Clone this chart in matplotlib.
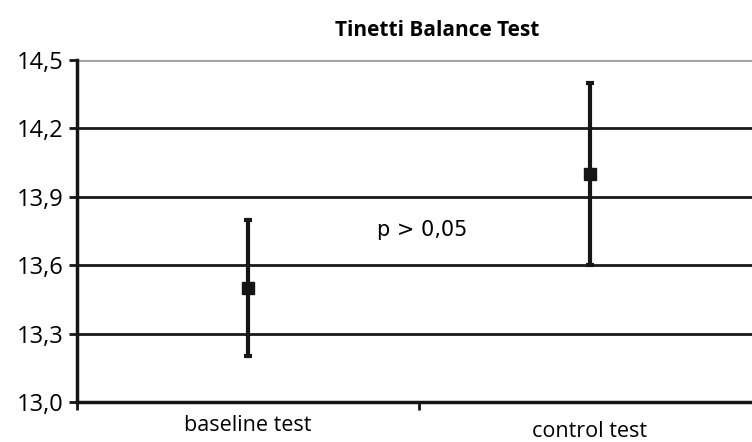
import matplotlib.pyplot as plt

plt.rcParams['font.family'] = ['Open Sans', 'DejaVu Sans']

# data
groups = ['baseline test', 'control test']
means = [13.5, 14.0]
lower = [13.2, 13.6]
upper = [13.8, 14.4]
yticks = [13.0, 13.3, 13.6, 13.9, 14.2, 14.5]
ptext = 'p > 0,05'

fig = plt.figure(figsize=(7.52, 4.42), dpi=100)
ax = fig.add_axes([77 / 752, 40 / 442, 1 - 77 / 752, 342 / 442])

x = [1, 2]
err = [[m - l for m, l in zip(means, lower)], [u - m for m, u in zip(means, upper)]]

# gridlines
for y in yticks[1:-1]:
    ax.axhline(y, color='#1a1a1a', lw=2, zorder=1)
ax.axhline(yticks[-1], color='#a0a0a0', lw=2, zorder=1)

ax.errorbar(x, means, yerr=err, fmt='s', color='#151515', ms=8, lw=3,
            capsize=3, capthick=3, zorder=3)

ax.text(1.51, 13.755, ptext, ha='center', va='center', fontsize=15,
        family='DejaVu Sans')

ax.set_yticks(yticks)
ax.set_yticklabels([f'{v:.1f}'.replace('.', ',') for v in yticks], fontsize=17)
ax.set_xticks([0.5, 1.5, 2.5])
ax.set_xticklabels([])
ax.set_ylim(13.0, 14.5)
ax.set_xlim(0.5, 2.474)
ax.tick_params(axis='both', direction='out', length=6, width=2, color='#151515')

# category labels (control label sits a bit lower in the original)
ax.text(1, 12.895, groups[0], ha='center', va='center', fontsize=15.5)
ax.text(2, 12.87, groups[1], ha='center', va='center', fontsize=15.5)

for s in ['top', 'right']:
    ax.spines[s].set_visible(False)
ax.spines['left'].set_linewidth(2.5)
ax.spines['bottom'].set_linewidth(2.5)
ax.spines['left'].set_color('#151515')
ax.spines['bottom'].set_color('#151515')

fig.text(437 / 752, 1 - 30 / 442, 'Tinetti Balance Test', ha='center',
         va='center', fontsize=15, fontweight='bold')

fig.savefig('out.png', dpi=100)
